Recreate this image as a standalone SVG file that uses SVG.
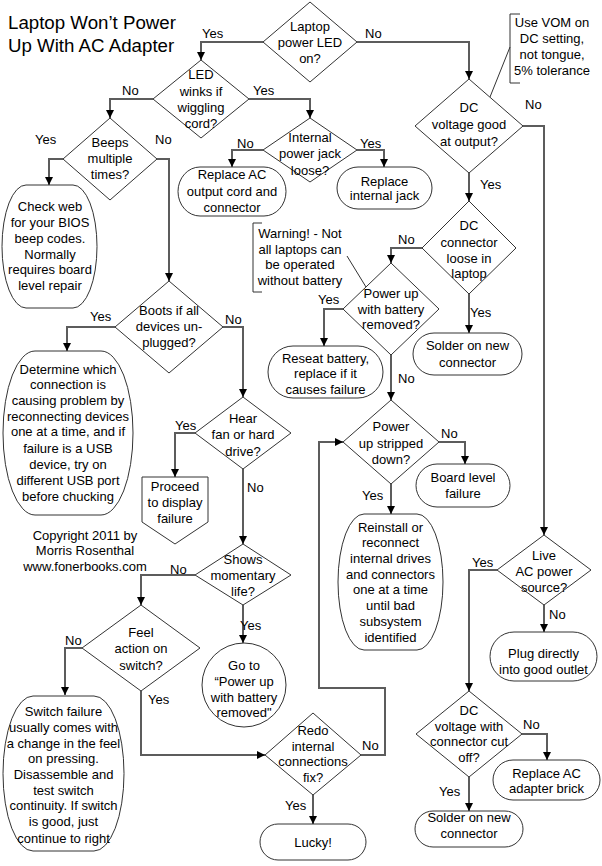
<svg xmlns="http://www.w3.org/2000/svg" width="602" height="866" viewBox="0 0 602 866">
<style>
.s{fill:#fff;stroke:#333;stroke-width:1}
.c{fill:none;stroke:#5c5c5c;stroke-width:2}
.n{fill:none;stroke:#333;stroke-width:1}
text{font-family:"Liberation Sans",Arial,sans-serif;font-size:13px;fill:#000}
.t{text-anchor:middle}
.h{font-size:18.7px}
</style>
<defs>
<marker id="a" viewBox="0 0 10 10" refX="10" refY="5" markerWidth="9" markerHeight="8" markerUnits="userSpaceOnUse" orient="auto"><path d="M0,0L10,5L0,10z" fill="#000"/></marker>
</defs>
<rect width="602" height="866" fill="#fff"/>
<g id="title"><text class="h" x="8" y="29">Laptop Won’t Power</text><text class="h" x="8" y="52">Up With AC Adapter</text></g>

<g id="connectors">
<path class="c" d="M263,42H201V60" marker-end="url(#a)"/>
<path class="c" d="M357,42H469V79" marker-end="url(#a)"/>
<path class="c" d="M153,99H110V118" marker-end="url(#a)"/>
<path class="c" d="M249,99H310V118" marker-end="url(#a)"/>
<path class="c" d="M263,150H232V167" marker-end="url(#a)"/>
<path class="c" d="M357,150H384V167" marker-end="url(#a)"/>
<path class="c" d="M63,159H49V185" marker-end="url(#a)"/>
<path class="c" d="M157,159H169V281" marker-end="url(#a)"/>
<path class="c" d="M523,126H544V535" marker-end="url(#a)"/>
<path class="c" d="M469,173V201" marker-end="url(#a)"/>
<path class="c" d="M422,248H391V263" marker-end="url(#a)"/>
<path class="c" d="M469,294V333" marker-end="url(#a)"/>
<path class="c" d="M343,309H324V346" marker-end="url(#a)"/>
<path class="c" d="M391,355V400" marker-end="url(#a)"/>
<path class="c" d="M115,327H67V351" marker-end="url(#a)"/>
<path class="c" d="M223,327H243V397" marker-end="url(#a)"/>
<path class="c" d="M195,433H175V477" marker-end="url(#a)"/>
<path class="c" d="M243,469V544" marker-end="url(#a)"/>
<path class="c" d="M439,442H465V464" marker-end="url(#a)"/>
<path class="c" d="M391,484V514" marker-end="url(#a)"/>
<path class="c" d="M497,570H469V691" marker-end="url(#a)"/>
<path class="c" d="M544,605V632" marker-end="url(#a)"/>
<path class="c" d="M522,734H547V760" marker-end="url(#a)"/>
<path class="c" d="M469,777V811" marker-end="url(#a)"/>
<path class="c" d="M195,575H141V605" marker-end="url(#a)"/>
<path class="c" d="M243,605V643" marker-end="url(#a)"/>
<path class="c" d="M82,648H65V695" marker-end="url(#a)"/>
<path class="c" d="M141,691V755H265" marker-end="url(#a)"/>
<path class="c" d="M361,755H385V688H319V442H343" marker-end="url(#a)"/>
<path class="c" d="M313,795V824" marker-end="url(#a)"/>
<path class="n" d="M510,47L490,97"/>
<path class="n" d="M347,256L366,287"/>
</g>

<g id="labels">
<text x="202" y="38">Yes</text>
<text x="365" y="38">No</text>
<text x="122" y="95">No</text>
<text x="253" y="95">Yes</text>
<text x="237" y="148">No</text>
<text x="360" y="148">Yes</text>
<text x="35" y="144">Yes</text>
<text x="155" y="144">No</text>
<text x="525" y="109">No</text>
<text x="480" y="189">Yes</text>
<text x="398" y="244">No</text>
<text x="470" y="317">Yes</text>
<text x="318" y="304">Yes</text>
<text x="398" y="383">No</text>
<text x="90" y="321">Yes</text>
<text x="225" y="324">No</text>
<text x="175" y="430">Yes</text>
<text x="247" y="492">No</text>
<text x="441" y="438">No</text>
<text x="362" y="500">Yes</text>
<text x="472" y="567">Yes</text>
<text x="549" y="619">No</text>
<text x="523" y="729">No</text>
<text x="439" y="796">Yes</text>
<text x="170" y="574">No</text>
<text x="240" y="630">Yes</text>
<text x="65" y="645">No</text>
<text x="148" y="704">Yes</text>
<text x="362" y="750">No</text>
<text x="285" y="810">Yes</text>
</g>

<g id="n1"><path class="s" d="M310,2L357,42L310,82L263,42z"/><text class="t"><tspan x="310" y="31">Laptop</tspan><tspan x="310" y="47">power LED</tspan><tspan x="310" y="63">on?</tspan></text></g>
<g id="n2"><path class="s" d="M201,60L249,99L201,138L153,99z"/><text class="t"><tspan x="201" y="79">LED</tspan><tspan x="201" y="96">winks if</tspan><tspan x="201" y="112">wiggling</tspan><tspan x="201" y="128">cord?</tspan></text></g>
<g id="n3"><path class="s" d="M310,118L357,150L310,182L263,150z"/><text class="t"><tspan x="310" y="142">Internal</tspan><tspan x="310" y="158">power jack</tspan><tspan x="310" y="175">loose?</tspan></text></g>
<g id="n4"><rect class="s" x="178" y="167" width="108" height="49" rx="22" ry="24.5"/><text class="t"><tspan x="232" y="179">Replace AC</tspan><tspan x="232" y="196">output cord and</tspan><tspan x="232" y="212">connector</tspan></text></g>
<g id="n5"><rect class="s" x="337" y="167" width="95" height="42" rx="21" ry="21"/><text class="t"><tspan x="384.5" y="186">Replace</tspan><tspan x="384.5" y="200">internal jack</tspan></text></g>
<g id="n6"><path class="s" d="M110,118L157,159L110,200L63,159z"/><text class="t"><tspan x="110" y="147">Beeps</tspan><tspan x="110" y="163">multiple</tspan><tspan x="110" y="179">times?</tspan></text></g>
<g id="n7"><rect class="s" x="2" y="185" width="95" height="123" rx="24" ry="61.5"/><text class="t"><tspan x="50" y="211">Check web</tspan><tspan x="50" y="227">for your BIOS</tspan><tspan x="50" y="243">beep codes.</tspan><tspan x="50" y="259">Normally</tspan><tspan x="50" y="274">requires board</tspan><tspan x="50" y="290">level repair</tspan></text></g>
<g id="n8"><path class="s" d="M469,79L523,126L469,173L415,126z"/><text class="t"><tspan x="469" y="112">DC</tspan><tspan x="469" y="129">voltage good</tspan><tspan x="469" y="146">at output?</tspan></text></g>
<g id="n9"><path class="n" d="M520,14H510V83H520"/><text class="t"><tspan x="552" y="27">Use VOM on</tspan><tspan x="552" y="43">DC setting,</tspan><tspan x="552" y="59">not tongue,</tspan><tspan x="552" y="75">5% tolerance</tspan></text></g>
<g id="n10"><path class="s" d="M469,201L516,248L469,294L422,248z"/><text class="t"><tspan x="469" y="230">DC</tspan><tspan x="469" y="247">connector</tspan><tspan x="469" y="263">loose in</tspan><tspan x="469" y="278">laptop</tspan></text></g>
<g id="n11"><path class="n" d="M262,223H253V292H262"/><text class="t"><tspan x="300" y="238">Warning! - Not</tspan><tspan x="300" y="254">all laptops can</tspan><tspan x="300" y="269">be operated</tspan><tspan x="300" y="285">without battery</tspan></text></g>
<g id="n12"><path class="s" d="M391,263L439,309L391,355L343,309z"/><text class="t"><tspan x="391" y="298">Power up</tspan><tspan x="391" y="314">with battery</tspan><tspan x="391" y="329">removed?</tspan></text></g>
<g id="n13"><rect class="s" x="413" y="333" width="109" height="42" rx="21" ry="21"/><text class="t"><tspan x="467.5" y="350">Solder on new</tspan><tspan x="467.5" y="367">connector</tspan></text></g>
<g id="n14"><rect class="s" x="268" y="346" width="115" height="52" rx="25" ry="26"/><text class="t"><tspan x="325.5" y="363">Reseat battery,</tspan><tspan x="325.5" y="378">replace if it</tspan><tspan x="325.5" y="394">causes failure</tspan></text></g>
<g id="n15"><path class="s" d="M169,281L223,327L169,373L115,327z"/><text class="t"><tspan x="169" y="315">Boots if all</tspan><tspan x="169" y="331">devices un-</tspan><tspan x="169" y="347">plugged?</tspan></text></g>
<g id="n16"><rect class="s" x="3" y="351" width="130" height="164" rx="32" ry="82"/><text class="t"><tspan x="68" y="374">Determine which</tspan><tspan x="68" y="389">connection is</tspan><tspan x="68" y="405">causing problem by</tspan><tspan x="68" y="421">reconnecting devices</tspan><tspan x="68" y="436">one at a time, and if</tspan><tspan x="68" y="453">failure is a USB</tspan><tspan x="68" y="469">device, try on</tspan><tspan x="68" y="485">different USB port</tspan><tspan x="68" y="501">before chucking</tspan></text></g>
<g id="n17"><path class="s" d="M243,397L291,433L243,469L195,433z"/><text class="t"><tspan x="243" y="423">Hear</tspan><tspan x="243" y="439">fan or hard</tspan><tspan x="243" y="456">drive?</tspan></text></g>
<g id="n18"><path class="s" d="M142,477H208V522L175,544L142,522z"/><text class="t"><tspan x="175" y="491">Proceed</tspan><tspan x="175" y="507">to display</tspan><tspan x="175" y="523">failure</tspan></text></g>
<g id="n19"><path class="s" d="M391,400L439,442L391,484L343,442z"/><text class="t"><tspan x="391" y="431">Power</tspan><tspan x="391" y="448">up stripped</tspan><tspan x="391" y="464">down?</tspan></text></g>
<g id="n20"><rect class="s" x="416" y="464" width="94" height="43" rx="21" ry="21.5"/><text class="t"><tspan x="463" y="482">Board level</tspan><tspan x="463" y="498">failure</tspan></text></g>
<g id="n21"><rect class="s" x="338" y="514" width="105" height="136" rx="26" ry="68"/><text class="t"><tspan x="390.5" y="532">Reinstall or</tspan><tspan x="390.5" y="547">reconnect</tspan><tspan x="390.5" y="563">internal drives</tspan><tspan x="390.5" y="579">and connectors</tspan><tspan x="390.5" y="594">one at a time</tspan><tspan x="390.5" y="610">until bad</tspan><tspan x="390.5" y="626">subsystem</tspan><tspan x="390.5" y="642">identified</tspan></text></g>
<g id="n22"><text class="t"><tspan x="85" y="540">Copyright 2011 by</tspan><tspan x="85" y="555">Morris Rosenthal</tspan><tspan x="85" y="571">www.fonerbooks.com</tspan></text></g>
<g id="n23"><path class="s" d="M243,544L291,575L243,605L195,575z"/><text class="t"><tspan x="243" y="564">Shows</tspan><tspan x="243" y="580">momentary</tspan><tspan x="243" y="596">life?</tspan></text></g>
<g id="n24"><path class="s" d="M544,535L591,570L544,605L497,570z"/><text class="t"><tspan x="544" y="560">Live</tspan><tspan x="544" y="576">AC power</tspan><tspan x="544" y="592">source?</tspan></text></g>
<g id="n25"><rect class="s" x="490" y="632" width="107" height="49" rx="24" ry="24.5"/><text class="t"><tspan x="543.5" y="658">Plug directly</tspan><tspan x="543.5" y="674">into good outlet</tspan></text></g>
<g id="n26"><path class="s" d="M141,605L200,648L141,691L82,648z"/><text class="t"><tspan x="141" y="637">Feel</tspan><tspan x="141" y="653">action on</tspan><tspan x="141" y="670">switch?</tspan></text></g>
<g id="n27"><circle class="s" cx="244" cy="685" r="42"/><text class="t"><tspan x="244" y="670">Go to</tspan><tspan x="244" y="686">“Power up</tspan><tspan x="244" y="702">with battery</tspan><tspan x="244" y="717">removed"</tspan></text></g>
<g id="n28"><rect class="s" x="3" y="696" width="121" height="155" rx="30" ry="77.5"/><text class="t"><tspan x="63.5" y="716">Switch failure</tspan><tspan x="63.5" y="732">usually comes with</tspan><tspan x="63.5" y="748">a change in the feel</tspan><tspan x="63.5" y="763">on pressing.</tspan><tspan x="63.5" y="779">Disassemble and</tspan><tspan x="63.5" y="795">test switch</tspan><tspan x="63.5" y="810">continuity. If switch</tspan><tspan x="63.5" y="826">is good, just</tspan><tspan x="63.5" y="843">continue to right</tspan></text></g>
<g id="n29"><path class="s" d="M313,713L361,755L313,795L265,755z"/><text class="t"><tspan x="313" y="735">Redo</tspan><tspan x="313" y="751">internal</tspan><tspan x="313" y="766">connections</tspan><tspan x="313" y="782">fix?</tspan></text></g>
<g id="n30"><rect class="s" x="260" y="824" width="106" height="36" rx="18" ry="18"/><text class="t" x="313" y="847">Lucky!</text></g>
<g id="n31"><path class="s" d="M469,691L522,734L469,777L416,734z"/><text class="t"><tspan x="469" y="715">DC</tspan><tspan x="469" y="731">voltage with</tspan><tspan x="469" y="746">connector cut</tspan><tspan x="469" y="762">off?</tspan></text></g>
<g id="n32"><rect class="s" x="493" y="760" width="107" height="40" rx="20" ry="20"/><text class="t"><tspan x="546.5" y="778">Replace AC</tspan><tspan x="546.5" y="793">adapter brick</tspan></text></g>
<g id="n33"><rect class="s" x="415" y="811" width="108" height="36" rx="18" ry="18"/><text class="t"><tspan x="469" y="822">Solder on new</tspan><tspan x="469" y="838">connector</tspan></text></g>
</svg>
